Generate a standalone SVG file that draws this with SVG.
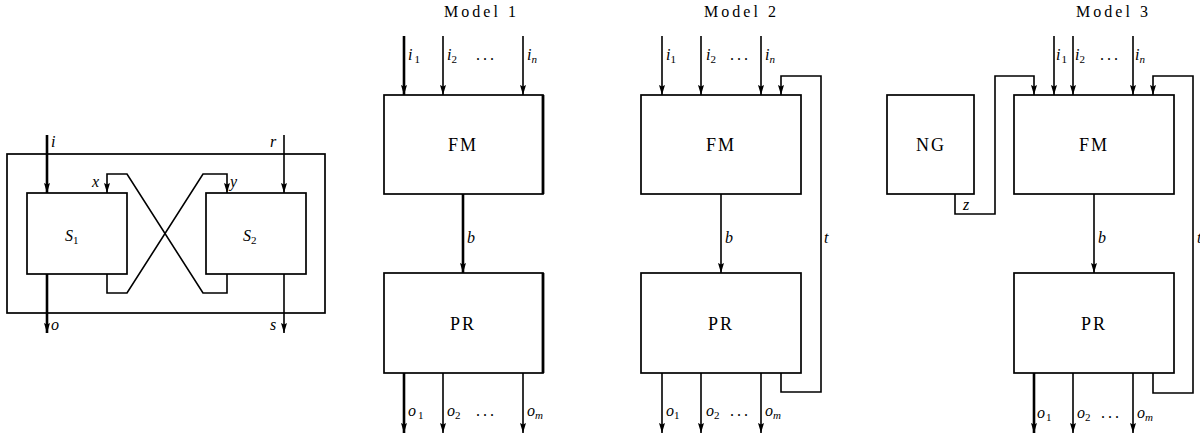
<svg xmlns="http://www.w3.org/2000/svg" width="1200" height="435" viewBox="0 0 1200 435">
<style>
.box{fill:#fff;stroke:#000;stroke-width:1.7}
.w{fill:none;stroke:#000;stroke-width:1.6}
.tk{stroke-width:2.6}
.a{marker-end:url(#ah)}
text{font-family:"Liberation Serif","DejaVu Serif",serif;fill:#000}
.v{font-style:italic;font-size:16px}
.s{font-size:11px;font-style:normal}
.si{font-size:11px;font-style:italic}
.n{font-size:18px;letter-spacing:2px}
.t{font-size:16px}
.d{font-size:16px;letter-spacing:3px}
</style>
<defs>
<marker id="ah" viewBox="0 0 10 6" refX="10" refY="3" markerWidth="10" markerHeight="6" markerUnits="userSpaceOnUse" orient="auto">
<path d="M0,0 L10,3 L0,6 L1.5,3 z" fill="#000"/>
</marker>
</defs>
<rect width="1200" height="435" fill="#fff"/>

<!-- left diagram -->
<g id="outer"><rect class="box" x="7" y="154" width="318" height="159"/></g>
<g id="S1"><rect class="box" x="27" y="193" width="100" height="81"/>
<text class="v" x="65" y="241" font-size="18">S<tspan class="s" font-size="12" dy="3">1</tspan></text></g>
<g id="S2"><rect class="box" x="206" y="193" width="100" height="81"/>
<text class="v" x="243" y="241" font-size="18">S<tspan class="s" font-size="12" dy="3">2</tspan></text></g>

<!-- Model 1 -->
<g id="m1-title"><text class="t" x="480" y="17" text-anchor="middle" textLength="72" lengthAdjust="spacing">Model 1</text></g>
<g id="m1-FM"><rect class="box" x="384" y="95" width="159" height="99"/>
<line x1="543" y1="95" x2="543" y2="194" stroke="#000" stroke-width="2.8"/>
<text class="n" x="463" y="151" text-anchor="middle">FM</text></g>
<g id="m1-PR"><rect class="box" x="384" y="273" width="159" height="100"/>
<line x1="543" y1="273" x2="543" y2="373" stroke="#000" stroke-width="2.8"/>
<text class="n" x="463" y="330" text-anchor="middle">PR</text></g>

<!-- Model 2 -->
<g id="m2-title"><text class="t" x="740" y="17" text-anchor="middle" textLength="72" lengthAdjust="spacing">Model 2</text></g>
<g id="m2-FM"><rect class="box" x="641" y="95" width="160" height="99"/>
<text class="n" x="721" y="151" text-anchor="middle">FM</text></g>
<g id="m2-PR"><rect class="box" x="641" y="273" width="160" height="100"/>
<text class="n" x="721" y="330" text-anchor="middle">PR</text></g>

<!-- Model 3 -->
<g id="m3-title"><text class="t" x="1112" y="17" text-anchor="middle" textLength="72" lengthAdjust="spacing">Model 3</text></g>
<g id="m3-NG"><rect class="box" x="887" y="95" width="87" height="99"/>
<text class="n" x="931" y="151" text-anchor="middle">NG</text></g>
<g id="m3-FM"><rect class="box" x="1014" y="95" width="160" height="99"/>
<text class="n" x="1094" y="151" text-anchor="middle">FM</text></g>
<g id="m3-PR"><rect class="box" x="1014" y="273" width="160" height="100"/>
<text class="n" x="1094" y="330" text-anchor="middle">PR</text></g>

<g id="connectors">
<!-- left -->
<line class="w tk a" x1="47" y1="135" x2="47" y2="193"/>
<line class="w a" x1="284" y1="135" x2="284" y2="193"/>
<line class="w tk a" x1="47" y1="274" x2="47" y2="333"/>
<line class="w a" x1="284" y1="274" x2="284" y2="333"/>
<polyline class="w a" points="227,274 227,293 203,293 127,174 107,174 107,193"/>
<polyline class="w a" points="107,274 107,293 127,293 203,174 227,174 227,193"/>
<!-- model 1 -->
<line class="w tk a" x1="404" y1="36" x2="404" y2="95"/>
<line class="w a" x1="443" y1="36" x2="443" y2="95"/>
<line class="w a" x1="523" y1="36" x2="523" y2="95"/>
<line class="w tk a" x1="463" y1="194" x2="463" y2="273"/>
<line class="w tk a" x1="404" y1="373" x2="404" y2="433"/>
<line class="w a" x1="443" y1="373" x2="443" y2="433"/>
<line class="w a" x1="523" y1="373" x2="523" y2="433"/>
<!-- model 2 -->
<line class="w a" x1="662" y1="36" x2="662" y2="95"/>
<line class="w a" x1="701" y1="36" x2="701" y2="95"/>
<line class="w a" x1="761" y1="36" x2="761" y2="95"/>
<line class="w a" x1="721" y1="194" x2="721" y2="273"/>
<line class="w a" x1="662" y1="373" x2="662" y2="433"/>
<line class="w a" x1="701" y1="373" x2="701" y2="433"/>
<line class="w a" x1="761" y1="373" x2="761" y2="433"/>
<polyline class="w a" points="781,373 781,392 821,392 821,76 781,76 781,95"/>
<!-- model 3 -->
<line class="w a" x1="1054" y1="36" x2="1054" y2="95"/>
<line class="w a" x1="1073" y1="36" x2="1073" y2="95"/>
<line class="w a" x1="1133" y1="36" x2="1133" y2="95"/>
<line class="w a" x1="1094" y1="194" x2="1094" y2="273"/>
<line class="w tk a" x1="1034" y1="373" x2="1034" y2="433"/>
<line class="w a" x1="1073" y1="373" x2="1073" y2="433"/>
<line class="w a" x1="1133" y1="373" x2="1133" y2="433"/>
<polyline class="w a" points="955,194 955,214 995,214 995,76 1034,76 1034,95"/>
<polyline class="w a" points="1153,373 1153,393 1193,393 1193,76 1153,76 1153,95"/>
</g>

<g id="labels">
<text class="v" x="51" y="147">i</text>
<text class="v" x="270" y="147">r</text>
<text class="v" x="92" y="187">x</text>
<text class="v" x="230" y="187">y</text>
<text class="v" x="51" y="330">o</text>
<text class="v" x="270" y="330">s</text>

<text class="v" x="408" y="60">i<tspan class="s" dx="2" dy="3">1</tspan></text>
<text class="v" x="447" y="60">i<tspan class="s" dy="3">2</tspan></text>
<text class="d" x="476" y="60">...</text>
<text class="v" x="527" y="60">i<tspan class="si" dy="3">n</tspan></text>
<text class="v" x="467" y="243">b</text>
<text class="v" x="408" y="416">o<tspan class="s" dx="2" dy="3">1</tspan></text>
<text class="v" x="447" y="416">o<tspan class="s" dy="3">2</tspan></text>
<text class="d" x="476" y="416">...</text>
<text class="v" x="527" y="416">o<tspan class="si" dy="3">m</tspan></text>

<text class="v" x="666" y="60">i<tspan class="s" dy="3">1</tspan></text>
<text class="v" x="706" y="60">i<tspan class="s" dy="3">2</tspan></text>
<text class="d" x="730" y="60">...</text>
<text class="v" x="765" y="60">i<tspan class="si" dy="3">n</tspan></text>
<text class="v" x="725" y="243">b</text>
<text class="v" x="824" y="243">t</text>
<text class="v" x="666" y="416">o<tspan class="s" dy="3">1</tspan></text>
<text class="v" x="706" y="416">o<tspan class="s" dy="3">2</tspan></text>
<text class="d" x="730" y="416">...</text>
<text class="v" x="765" y="416">o<tspan class="si" dy="3">m</tspan></text>

<text class="v" x="1056" y="60">i<tspan class="s" dx="1" dy="3">1</tspan></text>
<text class="v" x="1075" y="60">i<tspan class="s" dy="3">2</tspan></text>
<text class="d" x="1100" y="60">...</text>
<text class="v" x="1135" y="60">i<tspan class="si" dy="3">n</tspan></text>
<text class="v" x="963" y="210">z</text>
<text class="v" x="1098" y="243">b</text>
<text class="v" x="1197" y="243">t</text>
<text class="v" x="1037" y="418">o<tspan class="s" dx="1" dy="3">1</tspan></text>
<text class="v" x="1077" y="418">o<tspan class="s" dy="3">2</tspan></text>
<text class="d" x="1101" y="418">...</text>
<text class="v" x="1137" y="418">o<tspan class="si" dy="3">m</tspan></text>
</g>
</svg>
